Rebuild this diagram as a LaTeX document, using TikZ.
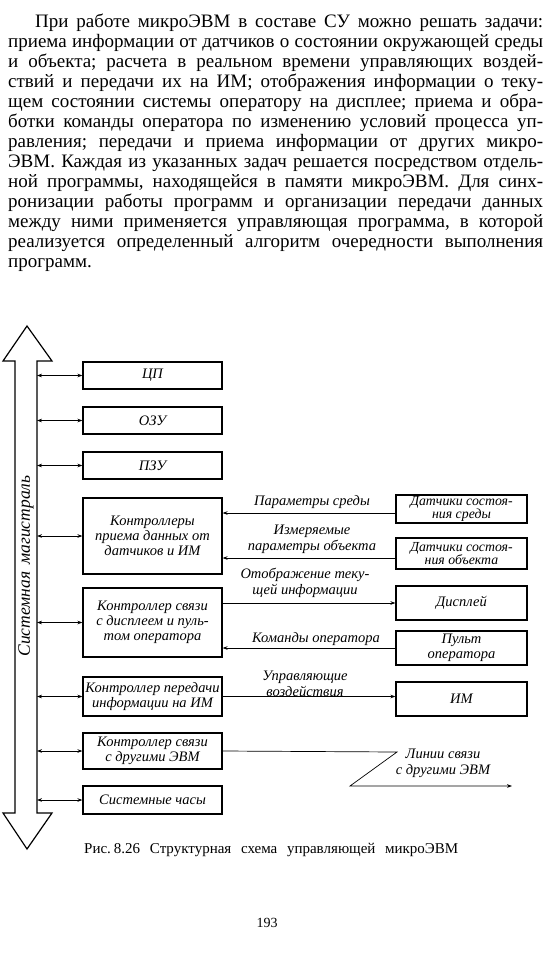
\documentclass[tikz,border=0pt]{standalone}
\usepackage{fontspec}
\setmainfont{Liberation Serif}
\usetikzlibrary{arrows.meta}
\frenchspacing

\newcommand{\stroka}[2][535pt]{\makebox[#1][s]{#2}}

\begin{document}
\begin{tikzpicture}[x=1pt,y=-1pt,
    blok/.style={draw,line width=1.2pt,align=center,inner sep=0pt,
      font=\itshape\fontsize{14.5}{15}\selectfont},
    levyj/.style={blok,minimum width=139pt},
    pravyj/.style={blok,minimum width=131pt,font=\itshape\fontsize{13.8}{13}\selectfont},
    svyaz/.style={line width=0.7pt,-{Stealth[length=5pt,width=3.6pt]}},
    dvust/.style={line width=0.7pt,{Stealth[length=5pt,width=3.6pt]}-{Stealth[length=5pt,width=3.6pt]}},
    podpis/.style={align=center,inner sep=0pt,font=\itshape\fontsize{14.5}{16}\selectfont}]
  \useasboundingbox (0,0) rectangle (551,953);

  \node[anchor=north west,inner sep=0pt,align=left,font=\fontsize{19}{20}\selectfont] (tekst) at (8,13)
    {\strut\hspace*{27pt}\stroka[508pt]{При работе микроЭВМ в составе СУ можно решать задачи:}\\
     \stroka{приема информации от датчиков о состоянии окружающей среды}\\
     \stroka{и объекта; расчета в реальном времени управляющих воздей-}\\
     \stroka{ствий и передачи их на ИМ; отображения информации о теку-}\\
     \stroka{щем состоянии системы оператору на дисплее; приема и обра-}\\
     \stroka{ботки команды оператора по изменению условий процесса уп-}\\
     \stroka{равления; передачи и приема информации от других микро-}\\
     \stroka{ЭВМ. Каждая из указанных задач решается посредством отдель-}\\
     \stroka{ной программы, находящейся в памяти микроЭВМ. Для синх-}\\
     \stroka{ронизации работы программ и организации передачи данных}\\
     \stroka{между ними применяется управляющая программа, в которой}\\
     \stroka{реализуется определенный алгоритм очередности выполнения}\\
     программ.};

  \draw[line width=1.2pt] (27,326) -- (52,361) -- (37,361) -- (37,813) -- (52,813) -- (27,849)
    -- (3,813) -- (15,813) -- (15,361) -- (3,361) -- cycle;
  \node[rotate=90,inner sep=0pt,font=\itshape\fontsize{17.5}{17}\selectfont] (mag) at (26,566)
    {Системная\hspace{7pt}магистраль};
  \coordinate (shina) at (37,0);

  \node[levyj,minimum height=27pt] (cp) at (152.5,375.5) {ЦП};
  \node[levyj,minimum height=27pt] (ozu) at (152.5,420.5) {ОЗУ};
  \node[levyj,minimum height=27pt] (pzu) at (152.5,465.5) {ПЗУ};
  \node[levyj,minimum height=76pt] (kpd) at (152.5,536) {Контроллеры\\приема данных от\\датчиков и ИМ};
  \node[levyj,minimum height=69pt] (ksd) at (152.5,622.5) {Контроллер связи\\с дисплеем и пуль-\\том оператора};
  \node[levyj,minimum height=39pt] (kpi) at (152.5,696.5) {Контроллер передачи\\информации на ИМ};
  \node[levyj,minimum height=36pt] (kse) at (152.5,751) {Контроллер связи\\с другими ЭВМ};
  \node[levyj,minimum height=28pt] (chas) at (152.5,800) {Системные часы};

  \node[pravyj,minimum height=28pt] (dsr) at (461.5,509) {Датчики состоя-\\ния среды};
  \node[pravyj,minimum height=31pt] (dob) at (461.5,553.5) {Датчики состоя-\\ния объекта};
  \node[pravyj,minimum height=34pt,font=\itshape\fontsize{14.5}{15}\selectfont] (disp) at (461.5,603) {Дисплей};
  \node[pravyj,minimum height=34pt,font=\itshape\fontsize{14.5}{15}\selectfont] (pult) at (461.5,648) {Пульт\\оператора};
  \node[pravyj,minimum height=34pt,font=\itshape\fontsize{14.5}{15}\selectfont] (im) at (461.5,699) {ИМ};

  \foreach \b in {cp,ozu,pzu,kpd,ksd,kpi,kse,chas}
    \draw[dvust] (\b.west -| shina) -- (\b.west);

  \coordinate (a1) at ([yshift=-4pt]dsr.west);
  \coordinate (a2) at ([yshift=-4.5pt]dob.west);
  \draw[svyaz] (a1) -- (a1 -| kpd.east);
  \draw[svyaz] (a2) -- (a2 -| kpd.east);
  \draw[svyaz] (disp.west -| ksd.east) -- (disp.west);
  \draw[svyaz] (pult.west) -- (pult.west -| ksd.east);
  \draw[svyaz] (kpi.east) -- (kpi.east -| im.west);

  \coordinate (l1) at (397,752);
  \coordinate (l2) at (350,786);
  \coordinate (l3) at (512,786);
  \draw[svyaz] (kse.east) -- (l1) -- (l2) -- (l3);

  \node[podpis] (p1) at (312,502) {Параметры среды};
  \node[podpis] (p2) at (312,539.5) {Измеряемые\\параметры объекта};
  \node[podpis] (p3) at (305,583) {Отображение теку-\\щей информации};
  \node[podpis] (p4) at (316,639) {Команды оператора};
  \node[podpis] (p5) at (305,683.5) {Управляющие\\воздействия};
  \node[podpis] (p6) at (443,763.5) {Линии связи\\с другими ЭВМ};

  \node[anchor=west,inner sep=0pt,font=\fontsize{15}{16}\selectfont] (ris) at (84,850)
    {\stroka[374pt]{Рис.\hspace{3pt}8.26 Структурная схема управляющей микроЭВМ}};
  \node[inner sep=0pt,font=\fontsize{14}{16}\selectfont] (nomer) at (267,923) {193};
\end{tikzpicture}
\end{document}
